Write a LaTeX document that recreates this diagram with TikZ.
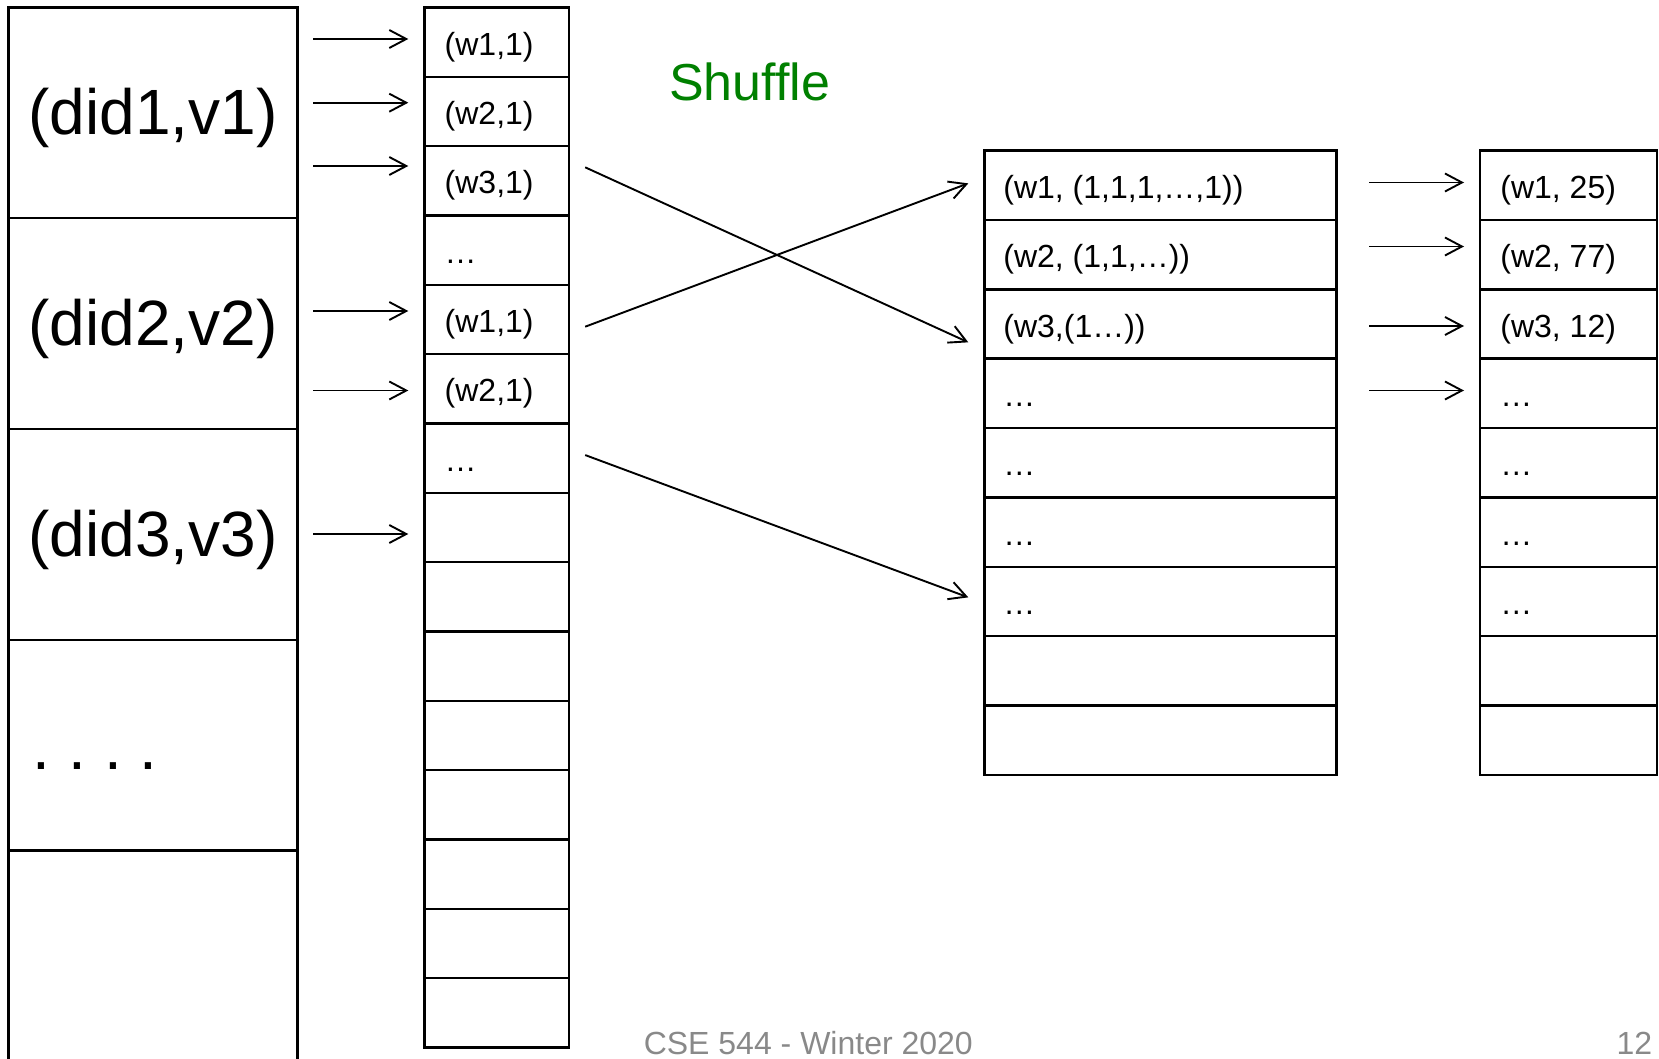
\documentclass[tikz,border=0pt]{standalone}
\usepackage{fontspec}
\setmainfont{Liberation Sans}
\usetikzlibrary{arrows.meta,calc}
\definecolor{shufgreen}{RGB}{0,128,0}
\definecolor{footgray}{RGB}{137,137,137}
\begin{document}
\frenchspacing
\begin{tikzpicture}[x=0.5pt,y=-0.5pt,
  cell/.style={draw, line width=1.2pt, inner sep=0, outer sep=0},
  lcell/.style={cell, minimum width=144.4pt, minimum height=105.4pt},
  mcell/.style={cell, minimum width=72.45pt, minimum height=34.667pt},
  tcell/.style={cell, minimum width=176.1pt, minimum height=34.667pt},
  ocell/.style={cell, minimum width=88.5pt, minimum height=34.667pt},
  big/.style={font=\fontsize{32}{38}\selectfont, inner sep=0, anchor=base},
  lab/.style={font=\fontsize{16}{19}\selectfont, inner sep=0, anchor=base west},
  arr/.style={-{Straight Barb[length=8.5pt,width=9pt]}, line width=0.95pt},
]
\useasboundingbox (0,0) rectangle (1659,1059);
\clip (0,0) rectangle (1659,1059);

% left column
\foreach \i in {1,...,5} \node[lcell] (L\i) at (152.9,{7.4+210.8*(\i-0.5)}) {};
\node[big] (L1t) at ($(L1.center)+(0,22)$) {(did1,v1)};
\node[big] (L2t) at ($(L2.center)+(0,22)$) {(did2,v2)};
\node[big] (L3t) at ($(L3.center)+(0,22)$) {(did3,v3)};
\node[big, anchor=base west] (L4t) at ($(L4.west)+(24,24)$) {. . . .};

% middle column
\foreach \i in {1,...,15} \node[mcell] (M\i) at (496.75,{7.4+69.333*(\i-0.5)}) {};
\foreach \i/\t in {1/{(w1,1)},2/{(w2,1)},3/{(w3,1)},4/{…},5/{(w1,1)},6/{(w2,1)},7/{…}}
  \node[lab] (Mt\i) at ($(M\i.west)+(20,13)$) {\t};

% third column
\foreach \i in {1,...,9} \node[tcell] (T\i) at (1160.4,{150.7+69.333*(\i-0.5)}) {};
\foreach \i/\t in {1/{(w1, (1,1,1,…,1))},2/{(w2, (1,1,…))},3/{(w3,(1…))},4/{…},5/{…},6/{…},7/{…}}
  \node[lab] (Tt\i) at ($(T\i.west)+(18.7,13)$) {\t};

% output column
\foreach \i in {1,...,9} \node[ocell] (O\i) at (1568.5,{150.7+69.333*(\i-0.5)}) {};
\foreach \i/\t in {1/{(w1, 25)},2/{(w2, 77)},3/{(w3, 12)},4/{…},5/{…},6/{…},7/{…}}
  \node[lab] (Ot\i) at ($(O\i.west)+(20,13)$) {\t};

% texts
\node[font=\fontsize{26}{31}\selectfont, text=shufgreen, inner sep=0, anchor=west] (shuf) at (668.7,81.5) {Shuffle};
\node[font=\fontsize{16}{19}\selectfont, text=footgray, inner sep=0, anchor=base] (foot) at (808.3,1054) {CSE 544 - Winter 2020};
\node[font=\fontsize{16}{19}\selectfont, text=footgray, inner sep=0, anchor=base east] (pg) at (1652.6,1054) {12};

% arrows left -> middle
\foreach \n/\y in {1/39,2/102.7,3/166,5/311,6/390.5,8/534} {
  \coordinate (a\n) at (313,\y);
  \draw[arr, shorten >=8pt] (a\n) -- (a\n -| M\n.west);
}
% arrows third -> output
\foreach \n/\y in {1/182.5,2/246.5,3/326,4/390.5} {
  \coordinate (b\n) at (1369,\y);
  \draw[arr, shorten >=8pt] (b\n) -- (b\n -| O\n.west);
}
% shuffle arrows
\draw[arr] ($(M3.east)+(16,-13.4)$) -- ($(T3.west)+(-16,18.3)$);
\draw[arr] ($(M5.east)+(16,7.3)$) -- ($(T1.west)+(-16,-2)$);
\draw[arr] ($(M7.east)+(16,-3)$) -- ($(T7.west)+(-16,-4)$);
\end{tikzpicture}
\end{document}
